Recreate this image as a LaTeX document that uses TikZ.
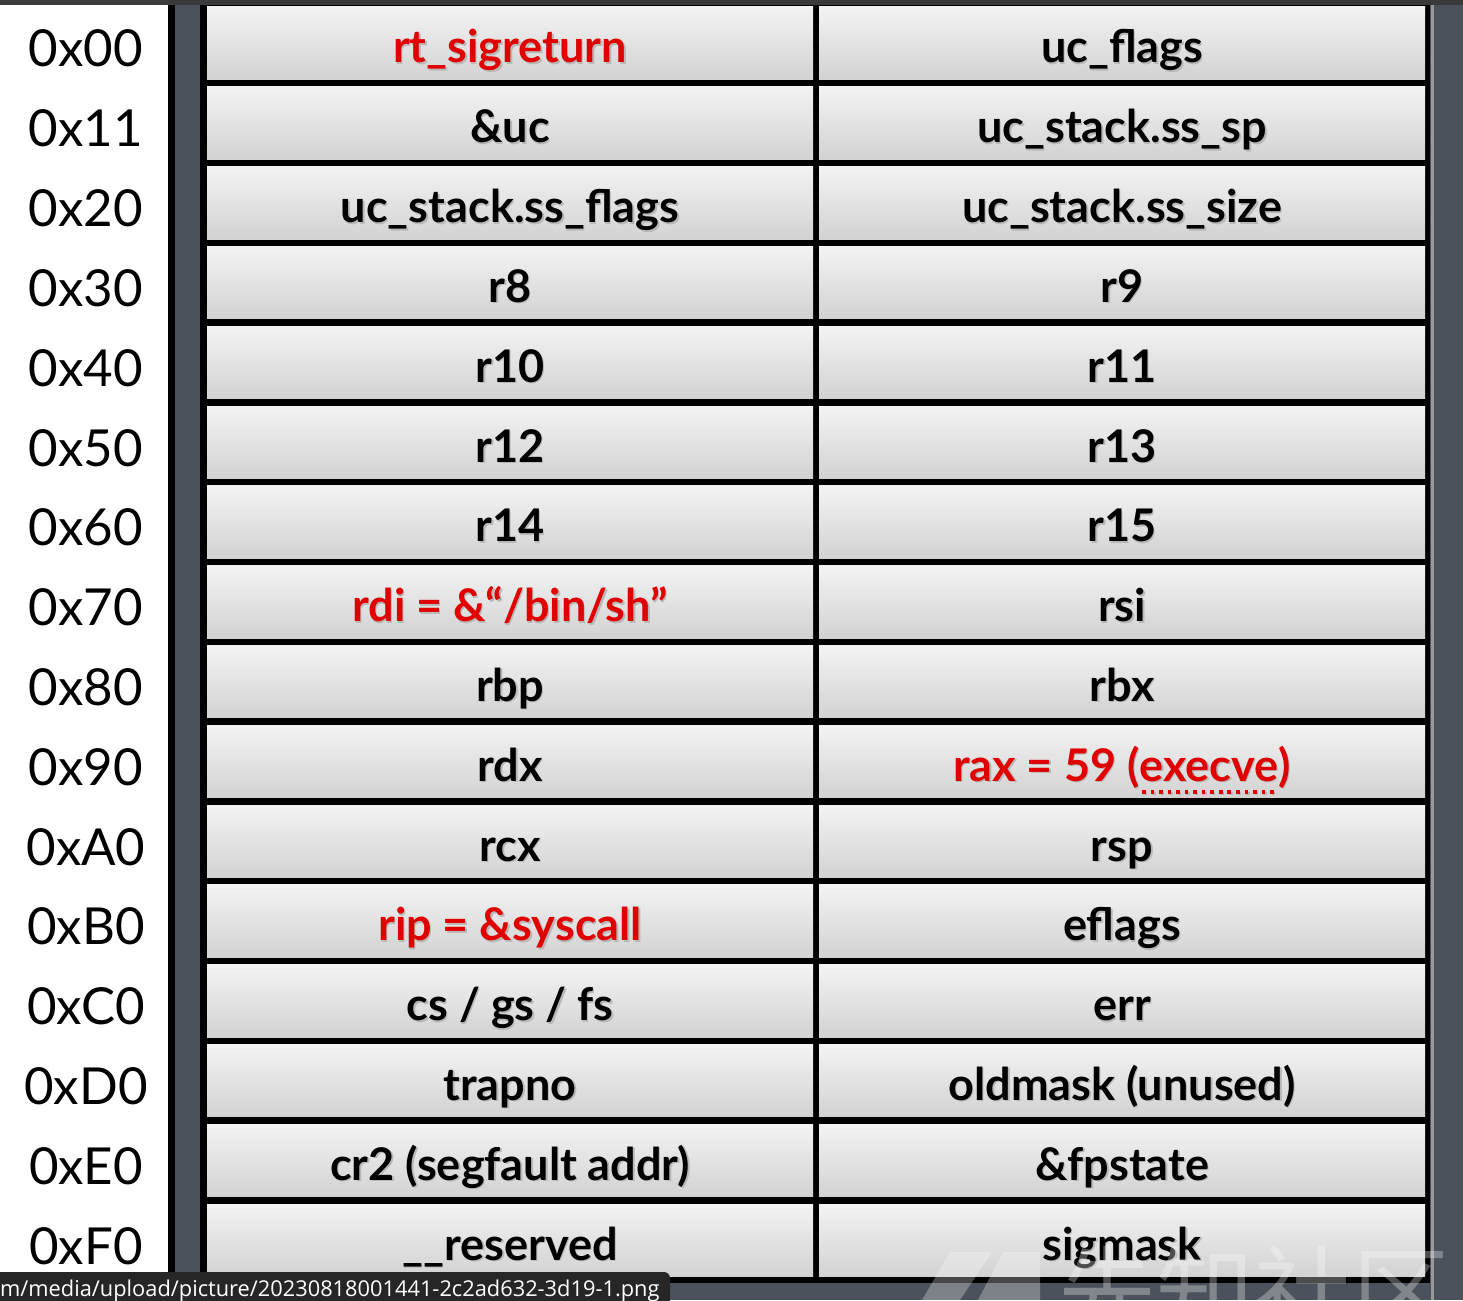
\documentclass[tikz,border=0pt]{standalone}
\usepackage{fontspec}
\setmainfont{Lato}
\newfontfamily\urlfont{Open Sans}
\newfontfamily\cjk{Noto Sans CJK SC}
\definecolor{band}{HTML}{4B525B}
\definecolor{topbar}{HTML}{3A3A3A}
\definecolor{cellred}{HTML}{E00000}
\definecolor{celltop}{HTML}{F3F3F3}
\definecolor{cellbot}{HTML}{D2D2D2}
\definecolor{urlbg}{HTML}{262626}
\newsavebox\exbox
\newcommand\dotunder[1]{\sbox\exbox{#1}\rlap{\raisebox{-0.28em}{\hbox to \wd\exbox{\leaders\hbox to 0.19em{\hss\rule{0.08em}{0.08em}\hss}\hfill}}}\usebox\exbox}
\newcommand\shtext[2]{\rlap{\kern1.5pt\raisebox{-1.5pt}{\color{black!28}#2}}{\color{#1}#2}}
\tikzset{
  cellbox/.style={draw=none, inner sep=0pt, minimum width=606pt, minimum height=72.5pt,
    top color=celltop, bottom color=cellbot},
  celltext/.style={anchor=base, inner sep=0pt, font=\bfseries\fontsize{45}{52}\selectfont},
  addr/.style={anchor=base, inner sep=0pt, font=\fontsize{51}{60}\selectfont},
}
\newcommand\memrow[6]{%
  \pgfmathsetmacro\yc{-(7+79.8*#1+36.25)}%
  \pgfmathsetmacro\yb{-(7+79.8*#1+56)}%
  \pgfmathsetmacro\ya{-(7+79.8*#1+60)}%
  \node[cellbox] (L#1) at (510,\yc) {};
  \node[cellbox] (R#1) at (1122,\yc) {};
  \node[celltext] (LT#1) at (510,\yb) {\shtext{#3}{#4}};
  \node[celltext] (RT#1) at (1122,\yb) {\shtext{#5}{#6}};
  \node[addr] (A#1) at (86,\ya) {#2};
}
\begin{document}
\begin{tikzpicture}[x=1pt,y=1pt]
\useasboundingbox (0,0) rectangle (1463,-1300);
\fill[white] (0,0) rectangle (1463,-1300);
\fill[topbar] (0,0) rectangle (1463,-5);
\fill[band] (168,-5) rectangle (1463,-1300);
\fill[black] (168,-5) rectangle (175,-1300);
\fill[black] (200,-5) rectangle (1430,-1283);
\fill[black!40] (1431,-5) rectangle (1434,-1300);
\memrow{0}{0x00}{cellred}{rt\_sigreturn}{black}{uc\_flags}
\memrow{1}{0x11}{black}{\&uc}{black}{uc\_stack.ss\_sp}
\memrow{2}{0x20}{black}{uc\_stack.ss\_flags}{black}{uc\_stack.ss\_size}
\memrow{3}{0x30}{black}{r8}{black}{r9}
\memrow{4}{0x40}{black}{r10}{black}{r11}
\memrow{5}{0x50}{black}{r12}{black}{r13}
\memrow{6}{0x60}{black}{r14}{black}{r15}
\memrow{7}{0x70}{cellred}{rdi = \&“/bin/sh”}{black}{rsi}
\memrow{8}{0x80}{black}{rbp}{black}{rbx}
\memrow{9}{0x90}{black}{rdx}{cellred}{rax = 59 (\dotunder{execve})}
\memrow{10}{0xA0}{black}{rcx}{black}{rsp}
\memrow{11}{0xB0}{cellred}{rip = \&syscall}{black}{eflags}
\memrow{12}{0xC0}{black}{cs / gs / fs}{black}{err}
\memrow{13}{0xD0}{black}{trapno}{black}{oldmask (unused)}
\memrow{14}{0xE0}{black}{cr2 (segfault addr)}{black}{\&fpstate}
\memrow{15}{0xF0}{black}{\_\_reserved}{black}{sigmask}
\begin{scope}
\clip (0,0) rectangle (1463,-1300);
\fill[white, opacity=0.28] (950,-1252) -- (992,-1252) -- (960,-1300) -- (922,-1300) -- cycle;
\fill[white, opacity=0.28] (1003,-1252) -- (1040,-1252) -- (1040,-1300) -- (978,-1300) -- cycle;
\node[anchor=north west, inner sep=0pt, text=white, text opacity=0.3, font=\cjk\fontsize{98}{98}\selectfont] (wm) at (1058,-1246) {先知社区};
\fill[urlbg, rounded corners=6pt] (-10,-1272) rectangle (670,-1320);
\node[anchor=base west, inner sep=0pt, text=white, font=\urlfont\fontsize{21.8}{24}\selectfont] (url) at (0,-1296) {m/media/upload/picture/20230818001441-2c2ad632-3d19-1.png};
\end{scope}
\end{tikzpicture}
\end{document}
